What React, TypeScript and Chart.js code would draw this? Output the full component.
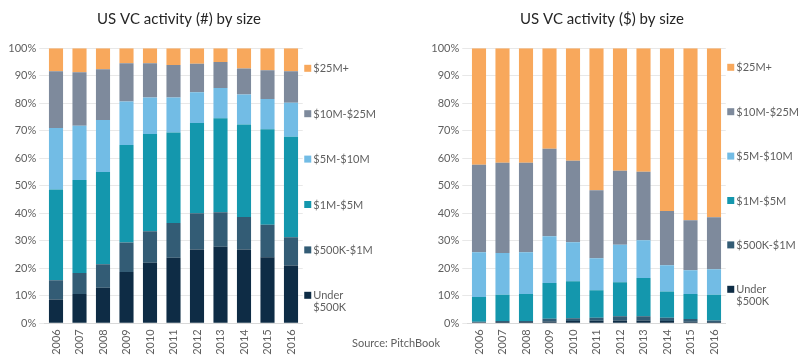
import React, { useEffect, useRef } from "react";
import { Chart, registerables } from "chart.js";
Chart.register(...registerables);

const years = ["2006", "2007", "2008", "2009", "2010", "2011", "2012", "2013", "2014", "2015", "2016"];
const seriesNames = ["Under $500K", "$500K-$1M", "$1M-$5M", "$5M-$10M", "$10M-$25M", "$25M+"];
const yTicks = [0, 10, 20, 30, 40, 50, 60, 70, 80, 90, 100];

// US VC activity (#) by size — % share of deal count
const countUnder500K = [8.7, 10.7, 12.9, 18.7, 22.0, 23.8, 26.8, 27.8, 26.8, 24.0, 21.0];
const count500Kto1M = [7.0, 7.6, 8.6, 10.7, 11.5, 12.7, 13.2, 12.6, 11.9, 11.8, 10.3];
const count1Mto5M = [33.0, 33.8, 33.5, 35.4, 35.3, 32.9, 32.8, 34.2, 33.6, 34.8, 36.5];
const count5Mto10M = [22.3, 19.7, 18.9, 15.9, 13.3, 12.7, 11.2, 11.0, 10.9, 11.0, 12.4];
const count10Mto25M = [20.7, 19.5, 18.5, 13.9, 12.5, 11.8, 10.4, 9.4, 9.5, 10.4, 11.5];
const count25MPlus = [8.3, 8.7, 7.6, 5.4, 5.4, 6.1, 5.6, 5.0, 7.3, 8.0, 8.3];

// US VC activity ($) by size — % share of capital invested
const dollarUnder500K = [0.4, 0.5, 0.5, 0.7, 0.8, 0.9, 1.0, 1.0, 0.8, 0.6, 0.5];
const dollar500Kto1M = [0.2, 0.3, 0.3, 1.0, 1.0, 1.1, 1.6, 1.6, 1.2, 1.0, 0.5];
const dollar1Mto5M = [9.0, 9.6, 9.9, 13.0, 13.5, 10.0, 12.3, 13.9, 9.6, 9.1, 9.4];
const dollar5Mto10M = [16.2, 15.2, 15.1, 17.0, 14.2, 11.7, 13.7, 13.7, 9.5, 8.6, 9.3];
const dollar10Mto25M = [31.9, 32.8, 32.6, 31.8, 29.6, 24.7, 26.9, 24.9, 19.7, 18.2, 18.9];
const dollar25MPlus = [42.3, 41.6, 41.6, 36.5, 40.9, 51.6, 44.5, 44.9, 59.2, 62.5, 61.4];

const colors = ["#0e2c45", "#335c75", "#1497ad", "#72bce5", "#7e8a9c", "#f8a85c"];

const FONT = "Lato, 'Open Sans', sans-serif";
const TEXT = "#5f5f5f";

function makeChart(
  canvas: HTMLCanvasElement,
  title: string,
  series: number[][],
  legendTop: number,
  legendStep: number
) {
  const legendPlugin = {
    id: "customLegendTitle",
    afterDraw(chart: any) {
      const ctx = chart.ctx;
      const area = chart.chartArea;
      ctx.save();
      // title
      ctx.fillStyle = "#262626";
      ctx.font = `15px ${FONT}`;
      ctx.textAlign = "center";
      ctx.textBaseline = "middle";
      ctx.fillText(title, (area.left + area.right) / 2 + 5.5, 19);
      // legend (top item = last series)
      ctx.font = `11px ${FONT}`;
      ctx.textAlign = "left";
      const order = [...seriesNames.keys()].reverse();
      order.forEach((si, i) => {
        const y = legendTop + i * legendStep;
        ctx.fillStyle = colors[si];
        ctx.fillRect(area.right + 1.5, y - 3.5, 7, 7);
        ctx.fillStyle = TEXT;
        const name = seriesNames[si];
        const lines = name === "Under $500K" ? ["Under", "$500K"] : [name];
        lines.forEach((ln, li) => {
          ctx.fillText(ln, area.right + 10.5, y + li * 11.5 + 0.5);
        });
      });
      ctx.restore();
    },
  };

  return new Chart(canvas, {
    type: "bar",
    data: {
      labels: years,
      datasets: series.map((d, i) => ({
        label: seriesNames[i],
        data: d,
        backgroundColor: colors[i],
        borderWidth: 0,
        barPercentage: 0.6,
        categoryPercentage: 1,
      })),
    },
    options: {
      responsive: false,
      animation: false,
      devicePixelRatio: 1,
      layout: { padding: { left: 0, right: 75.25, top: 48.3, bottom: 0 } },
      plugins: {
        legend: { display: false },
        title: { display: false },
        tooltip: { enabled: false },
      },
      scales: {
        x: {
          stacked: true,
          grid: { display: false, drawTicks: false },
          border: { display: true, color: "#d9d9d9" },
          ticks: {
            minRotation: 90,
            maxRotation: 90,
            padding: 6,
            color: TEXT,
            font: { family: FONT, size: 11 },
          },
          afterFit: (s: any) => {
            s.height = 36.7;
          },
        },
        y: {
          stacked: true,
          min: 0,
          max: 100,
          afterBuildTicks: (s: any) => {
            s.ticks = yTicks.map((v) => ({ value: v }));
          },
          ticks: {
            callback: (v: any) => v + "%",
            padding: 3,
            color: TEXT,
            font: { family: FONT, size: 11 },
          },
          grid: { color: "#e8e8e8", tickLength: 5, drawTicks: true },
          border: { display: false },
          afterFit: (s: any) => {
            s.width = 44.25;
          },
        },
      },
    },
    plugins: [legendPlugin],
  } as any);
}

export default function App() {
  const leftRef = useRef<HTMLCanvasElement>(null);
  const rightRef = useRef<HTMLCanvasElement>(null);

  useEffect(() => {
    const c1 = makeChart(
      leftRef.current!,
      "US VC activity (#) by size",
      [countUnder500K, count500Kto1M, count1Mto5M, count5Mto10M, count10Mto25M, count25MPlus],
      68.3,
      45.4
    );
    const c2 = makeChart(
      rightRef.current!,
      "US VC activity ($) by size",
      [dollarUnder500K, dollar500Kto1M, dollar1Mto5M, dollar5Mto10M, dollar10Mto25M, dollar25MPlus],
      67.3,
      44.4
    );
    return () => {
      c1.destroy();
      c2.destroy();
    };
  }, []);

  return (
    <div
      style={{
        position: "fixed",
        left: 0,
        top: 0,
        width: 801,
        height: 360,
        background: "#fff",
        overflow: "hidden",
      }}
    >
      <canvas
        ref={leftRef}
        width={378}
        height={360}
        style={{ position: "absolute", left: 0, top: 0, width: 378, height: 360 }}
      />
      <canvas
        ref={rightRef}
        width={378}
        height={360}
        style={{ position: "absolute", left: 423, top: 0, width: 378, height: 360 }}
      />
      <div
        style={{
          position: "absolute",
          left: 352,
          top: 335,
          fontFamily: FONT,
          fontSize: 11,
          color: TEXT,
          whiteSpace: "nowrap",
          lineHeight: "15px",
        }}
      >
        Source: PitchBook
      </div>
    </div>
  );
}
